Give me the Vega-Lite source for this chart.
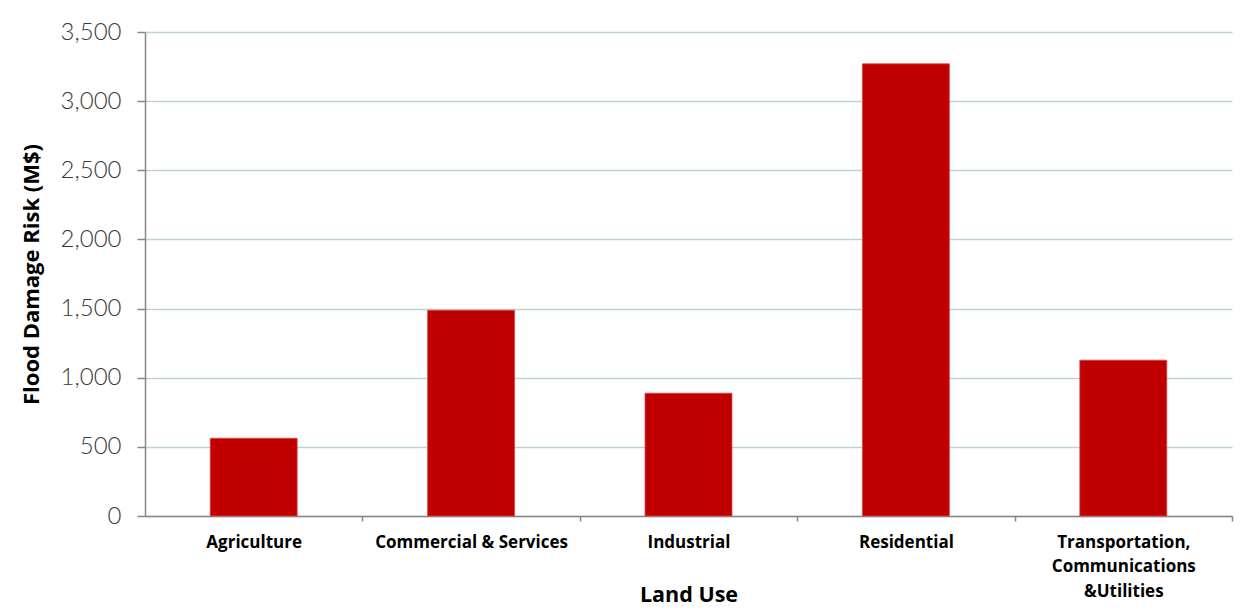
{
  "$schema": "https://vega.github.io/schema/vega-lite/v6.json",
  "width": 1087,
  "height": 484,
  "autosize": {"type": "none"},
  "padding": {"left": 145, "top": 32, "right": 20, "bottom": 98},
  "background": "white",
  "data": {
    "values": [
      {"land_use": "Agriculture", "risk": 562},
      {"land_use": "Commercial & Services", "risk": 1488},
      {"land_use": "Industrial", "risk": 888},
      {"land_use": "Residential", "risk": 3270},
      {"land_use": "Transportation, Communications &Utilities", "risk": 1127}
    ]
  },
  "mark": {"type": "bar", "color": "#c00000", "stroke": "#d9474a", "strokeWidth": 0.8},
  "encoding": {
    "x": {
      "field": "land_use",
      "type": "nominal",
      "sort": null,
      "scale": {"paddingInner": 0.6, "paddingOuter": 0.3},
      "axis": {
        "title": "Land Use",
        "titleFont": "Open Sans",
        "titleFontSize": 21.5,
        "titleFontWeight": "bold",
        "titleColor": "#000000",
        "titleY": 85,
        "titleBaseline": "alphabetic",
        "labelAngle": 0,
        "labelFont": "Open Sans",
        "labelFontSize": 17,
        "labelFontWeight": "bold",
        "labelColor": "#000000",
        "labelPadding": 13,
        "labelLimit": 300,
        "labelLineHeight": 24.5,
        "labelBaseline": "top",
        "labelExpr": "datum.value == 'Transportation, Communications &Utilities' ? ['Transportation,', 'Communications', '&Utilities'] : datum.value",
        "tickOffset": 108.7,
        "labelOffset": -108.7,
        "tickSize": 5,
        "tickColor": "#878787",
        "tickWidth": 1.5,
        "domainColor": "#878787",
        "domainWidth": 1.5,
        "grid": false
      }
    },
    "y": {
      "field": "risk",
      "type": "quantitative",
      "scale": {"domain": [0, 3500], "nice": false},
      "axis": {
        "title": "Flood Damage Risk (M$)",
        "titleFont": "Open Sans",
        "titleFontSize": 22,
        "titleFontWeight": "bold",
        "titleColor": "#000000",
        "titlePadding": 17,
        "values": [0, 500, 1000, 1500, 2000, 2500, 3000, 3500],
        "format": ",d",
        "labelFont": "Lato",
        "labelFontWeight": 300,
        "labelFontSize": 24,
        "labelColor": "#3a3a3a",
        "labelPadding": 16,
        "tickSize": 8,
        "tickColor": "#878787",
        "tickWidth": 1.5,
        "domainColor": "#878787",
        "domainWidth": 1.5,
        "gridColor": "#bfd1d8",
        "gridWidth": 1.5
      }
    }
  },
  "config": {"view": {"stroke": null}}
}
